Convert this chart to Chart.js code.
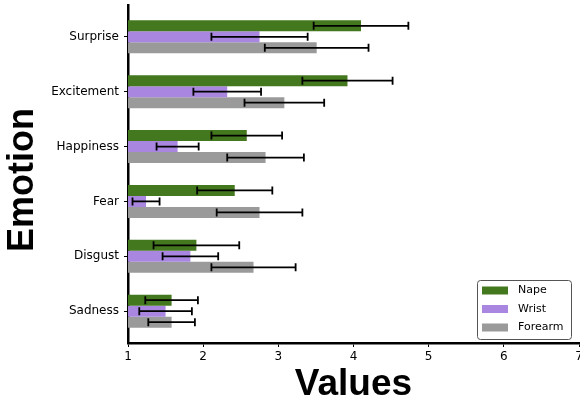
<!DOCTYPE html>
<html>
<head>
<meta charset="utf-8">
<script src="https://cdn.jsdelivr.net/npm/chart.js@4/dist/chart.umd.min.js"></script>
<style>
  html, body { margin: 0; padding: 0; background: #fff; overflow: hidden; }
  #wrap { width: 580px; height: 404px; position: relative; }
</style>
</head>
<body>
<div id="wrap"><canvas id="c" width="580" height="404"></canvas></div>
<script>
// Mean ratings per emotion (top to bottom) and their error half-widths
const emotions = ['Surprise', 'Excitement', 'Happiness', 'Fear', 'Disgust', 'Sadness'];
const seriesNames = ['Nape', 'Wrist', 'Forearm'];
const napeMeans = [4.10, 3.92, 2.58, 2.42, 1.91, 1.58];
const napeErrors = [0.63, 0.60, 0.47, 0.50, 0.57, 0.35];
const wristMeans = [2.75, 2.32, 1.66, 1.24, 1.83, 1.50];
const wristErrors = [0.64, 0.45, 0.28, 0.18, 0.37, 0.35];
const forearmMeans = [3.51, 3.08, 2.83, 2.75, 2.67, 1.58];
const forearmErrors = [0.69, 0.53, 0.51, 0.57, 0.56, 0.31];
const valueTicks = [1, 2, 3, 4, 5, 6, 7];
const valueTitle = 'Values';
const categoryTitle = 'Emotion';

const seriesColors = ['#44781f', '#a987e0', '#9a9a9a'];
const seriesMeans = [napeMeans, wristMeans, forearmMeans];
const seriesErrors = [napeErrors, wristErrors, forearmErrors];

// Emotions are placed on a numeric axis, first one at the top
const rowPos = i => emotions.length - 1 - i;

const datasets = seriesNames.map((name, s) => ({
  label: name,
  data: seriesMeans[s].map((v, i) => ({ x: v, y: rowPos(i) })),
  errors: seriesErrors[s],
  backgroundColor: seriesColors[s],
  borderWidth: 0,
  categoryPercentage: 0.6,
  barPercentage: 1.0
}));

const errorBars = {
  id: 'errorBars',
  afterDatasetsDraw(chart) {
    const ctx = chart.ctx;
    const xs = chart.scales.x;
    ctx.save();
    ctx.strokeStyle = '#000';
    ctx.lineWidth = 1.8;
    chart.data.datasets.forEach((ds, d) => {
      const meta = chart.getDatasetMeta(d);
      meta.data.forEach((bar, i) => {
        const v = ds.data[i].x, e = ds.errors[i];
        const x0 = xs.getPixelForValue(v - e), x1 = xs.getPixelForValue(v + e);
        const y = bar.y, h = 4;
        ctx.beginPath();
        ctx.moveTo(x0, y); ctx.lineTo(x1, y);
        ctx.moveTo(x0, y - h); ctx.lineTo(x0, y + h);
        ctx.moveTo(x1, y - h); ctx.lineTo(x1, y + h);
        ctx.stroke();
      });
    });
    ctx.restore();
  }
};

// Vertical axis title, drawn beside the category labels
const sideTitle = {
  id: 'sideTitle',
  afterDraw(chart) {
    const ctx = chart.ctx;
    const a = chart.chartArea;
    ctx.save();
    ctx.translate(chart.scales.y.left + 23, (a.top + a.bottom) / 2 + 6);
    ctx.rotate(-Math.PI / 2);
    ctx.font = 'bold 36px "Liberation Sans"';
    ctx.fillStyle = '#000';
    ctx.textAlign = 'center';
    ctx.textBaseline = 'middle';
    ctx.fillText(categoryTitle, 0, 0);
    ctx.restore();
  }
};

const insideLegend = {
  id: 'insideLegend',
  afterDraw(chart) {
    const ctx = chart.ctx;
    const a = chart.chartArea;
    const w = 94, h = 59;
    const right = a.right - 8, bottom = a.bottom - 4;
    const left = right - w, top = bottom - h;
    ctx.save();
    ctx.fillStyle = 'rgba(255,255,255,0.85)';
    ctx.strokeStyle = '#555';
    ctx.lineWidth = 1;
    ctx.beginPath();
    ctx.roundRect(left + 0.5, top + 0.5, w, h, 3);
    ctx.fill();
    ctx.stroke();
    ctx.font = '11px "DejaVu Sans"';
    ctx.textBaseline = 'middle';
    chart.data.datasets.forEach((ds, d) => {
      const cy = top + 10.5 + d * 18.5;
      ctx.fillStyle = ds.backgroundColor;
      ctx.fillRect(left + 5, cy - 4, 26, 8);
      ctx.fillStyle = '#000';
      ctx.fillText(ds.label, left + 41, cy);
    });
    ctx.restore();
  }
};

new Chart(document.getElementById('c'), {
  type: 'bar',
  data: { datasets },
  options: {
    indexAxis: 'y',
    responsive: false,
    devicePixelRatio: 1,
    animation: false,
    layout: { padding: { top: 5, right: 1, bottom: 0, left: 0 } },
    plugins: { legend: { display: false }, tooltip: { enabled: false } },
    scales: {
      x: {
        type: 'linear',
        min: valueTicks[0],
        max: valueTicks[valueTicks.length - 1],
        afterBuildTicks: ax => { ax.ticks = valueTicks.map(v => ({ value: v })); },
        afterFit: ax => { ax.height = 61; ax.paddingLeft = 0; ax.paddingRight = 0; },
        grid: { display: true, offset: false, drawOnChartArea: false, drawTicks: true, tickLength: 4, color: '#000', tickWidth: 1 },
        border: { display: true, color: '#000', width: 2.5 },
        ticks: { color: '#000', font: { family: 'DejaVu Sans', size: 12 }, padding: 3, maxRotation: 0 },
        title: { display: true, text: valueTitle, color: '#000', font: { family: 'Liberation Sans', size: 37, weight: 'bold', lineHeight: 1.05 }, padding: { top: 0, bottom: 0 } }
      },
      y: {
        type: 'linear',
        offset: false,
        min: -0.58,
        max: emotions.length - 1 + 0.58,
        afterBuildTicks: ax => { ax.ticks = emotions.map((e, i) => ({ value: rowPos(i) })); },
        afterFit: ax => { ax.width = 128; ax.paddingTop = 0; ax.paddingBottom = 0; },
        grid: { display: true, offset: false, drawOnChartArea: false, drawTicks: true, tickLength: 4, color: '#000', tickWidth: 1 },
        border: { display: true, color: '#000', width: 2.5 },
        ticks: {
          color: '#000', font: { family: 'DejaVu Sans', size: 12 }, padding: 5,
          callback: v => emotions[emotions.length - 1 - v]
        },
        title: { display: false }
      }
    }
  },
  plugins: [errorBars, sideTitle, insideLegend]
});
</script>
</body>
</html>
